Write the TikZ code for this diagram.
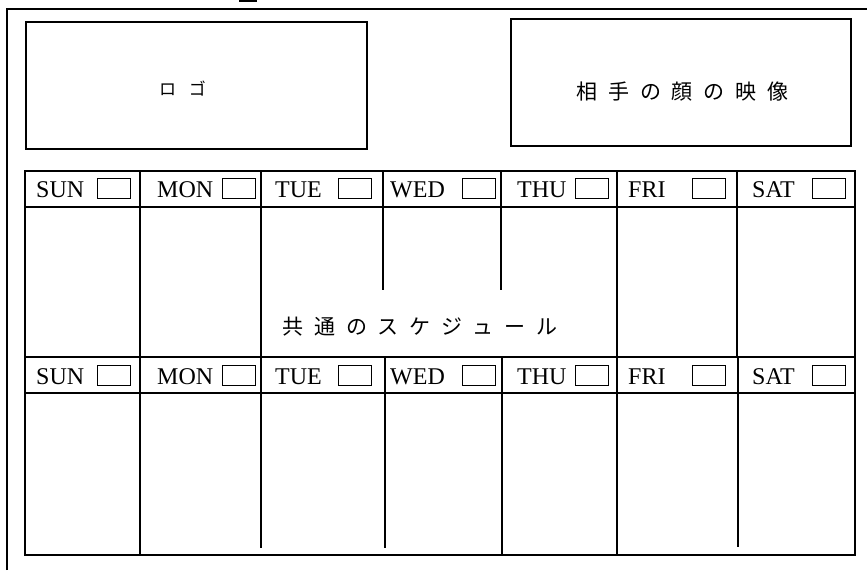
\documentclass[tikz,border=0pt]{standalone}
\usepackage{fontspec}
\setmainfont{Liberation Serif}
\newfontfamily\cjk{Noto Sans CJK JP}
\tikzset{
  frameline/.style={line width=1.8pt},
  gridline/.style={line width=1.6pt},
  bigbox/.style={draw, line width=1.8pt, inner sep=0},
  daylbl/.style={anchor=base west, inner sep=0, font=\fontsize{24}{24}\selectfont},
  chk/.style={draw, line width=0.8pt, minimum width=33pt, minimum height=20pt, inner sep=0, anchor=west},
  jtext/.style={inner sep=0, anchor=west, font=\fontsize{21}{21}\cjk\addfontfeature{LetterSpace=52}},
}
\begin{document}
\begin{tikzpicture}[x=1pt,y=-1pt]
\useasboundingbox (0,0) rectangle (867,570);
\fill[white] (0,0) rectangle (867,570);
% outer frame (partly outside the picture)
\coordinate (ofl) at (7,570);
\coordinate (oftl) at (7,9);
\coordinate (oftr) at (867,9);
\draw[frameline] (ofl) -- (oftl) -- (oftr);
\fill (239,0) rectangle (257,2);
% top boxes
\node[bigbox, minimum width=341pt, minimum height=127pt] (logo) at (196.5,85.5) {};
\node[inner sep=0, anchor=west, font=\fontsize{17}{17}\cjk\addfontfeature{LetterSpace=75}] (logotxt) at (159,89) {ロゴ};
\node[bigbox, minimum width=340pt, minimum height=127pt] (face) at (681,82.5) {};
\node[jtext] (facetxt) at (576,92) {相手の顔の映像};
% calendar grid
\draw[gridline] (25,171) rectangle (855,555);
\foreach \y in {207,357,393} \draw[gridline] (25,\y) -- (855,\y);
\foreach \x in {140,261,617,737} \draw[gridline] (\x,171) -- (\x,357);
\foreach \x in {383,501} \draw[gridline] (\x,171) -- (\x,290);
\draw[gridline] (140,357) -- (140,555);
\draw[gridline] (261,357) -- (261,548);
\draw[gridline] (385,357) -- (385,548);
\draw[gridline] (502,357) -- (502,555);
\draw[gridline] (617,357) -- (617,555);
\draw[gridline] (738,357) -- (738,547);
\node[jtext] (common) at (282,327) {共通のスケジュール};
% day headers
\foreach \r/\b/\c in {1/197/188, 2/384/375}{
  \foreach \d/\tx/\bx in {SUN/36/97, MON/157/222, TUE/275/338, WED/390/462, THU/517/575, FRI/628/692, SAT/752/812}{
    \node[daylbl] (\d\r) at (\tx,\b) {\d};
    \node[chk] (\d box\r) at (\bx,\c) {};
  }
}
\end{tikzpicture}
\end{document}
